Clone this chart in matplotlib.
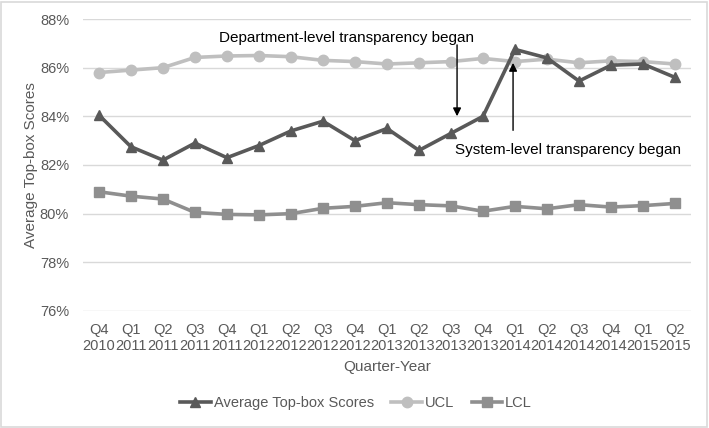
import matplotlib
matplotlib.use("Agg")
import matplotlib.pyplot as plt
from matplotlib.patches import Rectangle

plt.rcParams['font.family'] = ['Liberation Sans', 'DejaVu Sans']

quarters = ["Q4", "Q1", "Q2", "Q3", "Q4", "Q1", "Q2", "Q3", "Q4", "Q1",
            "Q2", "Q3", "Q4", "Q1", "Q2", "Q3", "Q4", "Q1", "Q2"]
years = ["2010", "2011", "2011", "2011", "2011", "2012", "2012", "2012", "2012", "2013",
         "2013", "2013", "2013", "2014", "2014", "2014", "2014", "2015", "2015"]
avg_scores = [84.05, 82.75, 82.2, 82.9, 82.3, 82.8, 83.4, 83.8, 83.0, 83.5,
              82.6, 83.3, 84.0, 86.75, 86.4, 85.45, 86.1, 86.15, 85.6]
ucl = [85.8, 85.9, 86.0, 86.42, 86.48, 86.5, 86.45, 86.3, 86.25, 86.15,
       86.2, 86.25, 86.38, 86.25, 86.35, 86.2, 86.28, 86.25, 86.15]
lcl = [80.9, 80.72, 80.6, 80.05, 79.97, 79.95, 80.0, 80.22, 80.3, 80.45,
       80.37, 80.32, 80.1, 80.3, 80.2, 80.37, 80.27, 80.33, 80.42]
yticks = [76, 78, 80, 82, 84, 86, 88]

fig = plt.figure(figsize=(7.09, 4.28), dpi=100)
ax = fig.add_axes([0.117, 0.2734, 0.8576, 0.6822])

x = list(range(len(quarters)))
c_avg, c_ucl, c_lcl = "#595959", "#bfbfbf", "#8f8f8f"
ax.plot(x, avg_scores, color=c_avg, lw=2.6, marker="^", ms=7.5, label="Average Top-box Scores", zorder=4)
ax.plot(x, ucl, color=c_ucl, lw=2.6, marker="o", ms=7.5, label="UCL", zorder=3)
ax.plot(x, lcl, color=c_lcl, lw=2.6, marker="s", ms=7, label="LCL", zorder=3)

ax.set_xlim(-0.5, len(quarters) - 0.5)
ax.set_ylim(76, 88)
ax.set_yticks(yticks)
ax.set_yticklabels([f"{v}%" for v in yticks])
ax.set_xticks(x)
ax.set_xticklabels([f"{q}\n{y}" for q, y in zip(quarters, years)], linespacing=1.1)
ax.tick_params(axis="both", length=0, labelsize=10.5, labelcolor="#595959")
ax.tick_params(axis="x", pad=9)
ax.tick_params(axis="y", pad=10)
ax.grid(axis="y", color="#d9d9d9", lw=1)
ax.set_axisbelow(True)
for s in ax.spines.values():
    s.set_visible(False)

ax.set_xlabel("Quarter-Year", fontsize=11, color="#595959", labelpad=5)
ax.set_ylabel("Average Top-box Scores", fontsize=11, color="#595959", labelpad=1)

ax.annotate("", xy=(11.19, 83.89), xytext=(11.19, 87.05),
            arrowprops=dict(arrowstyle="-|>", color="black", lw=1, mutation_scale=12))
ax.text(7.75, 87.22, "Department-level transparency began", ha="center", va="center",
        fontsize=11, color="black")
ax.annotate("", xy=(12.94, 86.31), xytext=(12.94, 83.31),
            arrowprops=dict(arrowstyle="-|>", color="black", lw=1, mutation_scale=12))
ax.text(14.66, 82.62, "System-level transparency began", ha="center", va="center",
        fontsize=11, color="black")

fig.legend(loc="center", bbox_to_anchor=(0.502, 0.058), ncol=3, frameon=False,
           fontsize=10.5, labelcolor="#595959", handlelength=2.1, columnspacing=1.2,
           handletextpad=0.2)

fig.add_artist(Rectangle((0.002, 0.003), 0.995, 0.993, transform=fig.transFigure,
                         fill=False, edgecolor="#d9d9d9", lw=1.2))

fig.savefig("out.png", dpi=100)
